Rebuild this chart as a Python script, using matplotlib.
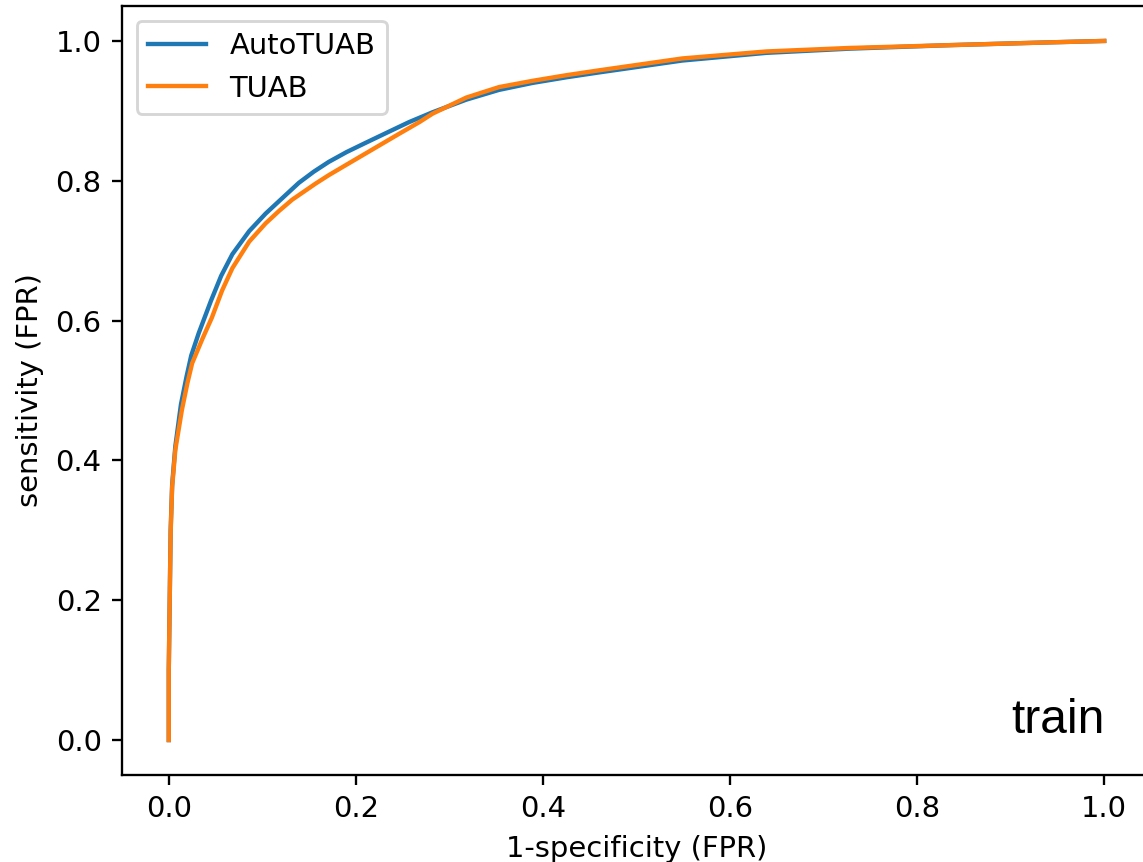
import matplotlib
matplotlib.use('Agg')
import matplotlib.pyplot as plt

# ROC points
fpr_auto = [0.0, 0.0, 0.001, 0.002, 0.0036, 0.007, 0.013, 0.019, 0.024, 0.032, 0.045,
            0.056, 0.068, 0.086, 0.1035, 0.118, 0.139, 0.155, 0.171, 0.19, 0.21, 0.235,
            0.257, 0.282, 0.318, 0.353, 0.389, 0.425, 0.460, 0.549, 0.639, 0.728,
            0.835, 0.942, 1.0]
tpr_auto = [0.0, 0.1, 0.2, 0.30, 0.365, 0.42, 0.48, 0.52, 0.55, 0.582, 0.628,
            0.664, 0.695, 0.728, 0.753, 0.771, 0.797, 0.813, 0.827, 0.841, 0.854, 0.870,
            0.884, 0.898, 0.916, 0.930, 0.940, 0.948, 0.955, 0.972, 0.983, 0.989,
            0.994, 0.998, 1.0]

fpr_tuab = [0.0, 0.0, 0.001, 0.002, 0.0036, 0.007, 0.014, 0.020, 0.025, 0.036, 0.046,
            0.057, 0.068, 0.086, 0.1035, 0.118, 0.132, 0.157, 0.171, 0.19, 0.218,
            0.246, 0.268, 0.282, 0.318, 0.353, 0.389, 0.425, 0.460, 0.549,
            0.639, 0.728, 0.835, 0.942, 1.0]
tpr_tuab = [0.0, 0.1, 0.2, 0.296, 0.362, 0.415, 0.472, 0.511, 0.539, 0.574, 0.604,
            0.643, 0.675, 0.713, 0.739, 0.757, 0.773, 0.796, 0.808, 0.823, 0.845,
            0.867, 0.884, 0.896, 0.919, 0.934, 0.943, 0.951, 0.958, 0.975,
            0.985, 0.990, 0.994, 0.998, 1.0]

W, H = 1143, 862
dpi = 209
fig = plt.figure(figsize=(W / dpi, H / dpi), dpi=dpi)
# axes runs a bit past the right edge, like the cropped original
ax = fig.add_axes([122 / W, 87 / H, 1029 / W, 769 / H])

ax.plot(fpr_auto, tpr_auto, label='AutoTUAB')
ax.plot(fpr_tuab, tpr_tuab, label='TUAB')
ax.set_xlim(-0.05, 1.05)
ax.set_ylim(-0.05, 1.05)
ax.spines['right'].set_visible(False)

ax.set_xlabel('1-specificity (FPR)')
ax.set_ylabel('sensitivity (FPR)')
ax.legend(loc='upper left')

ax.text(1.0, 0.01, 'train', ha='right', va='baseline',
        fontfamily='Liberation Sans', fontsize=16.5, color='black')

fig.savefig('out.png', dpi=dpi)
